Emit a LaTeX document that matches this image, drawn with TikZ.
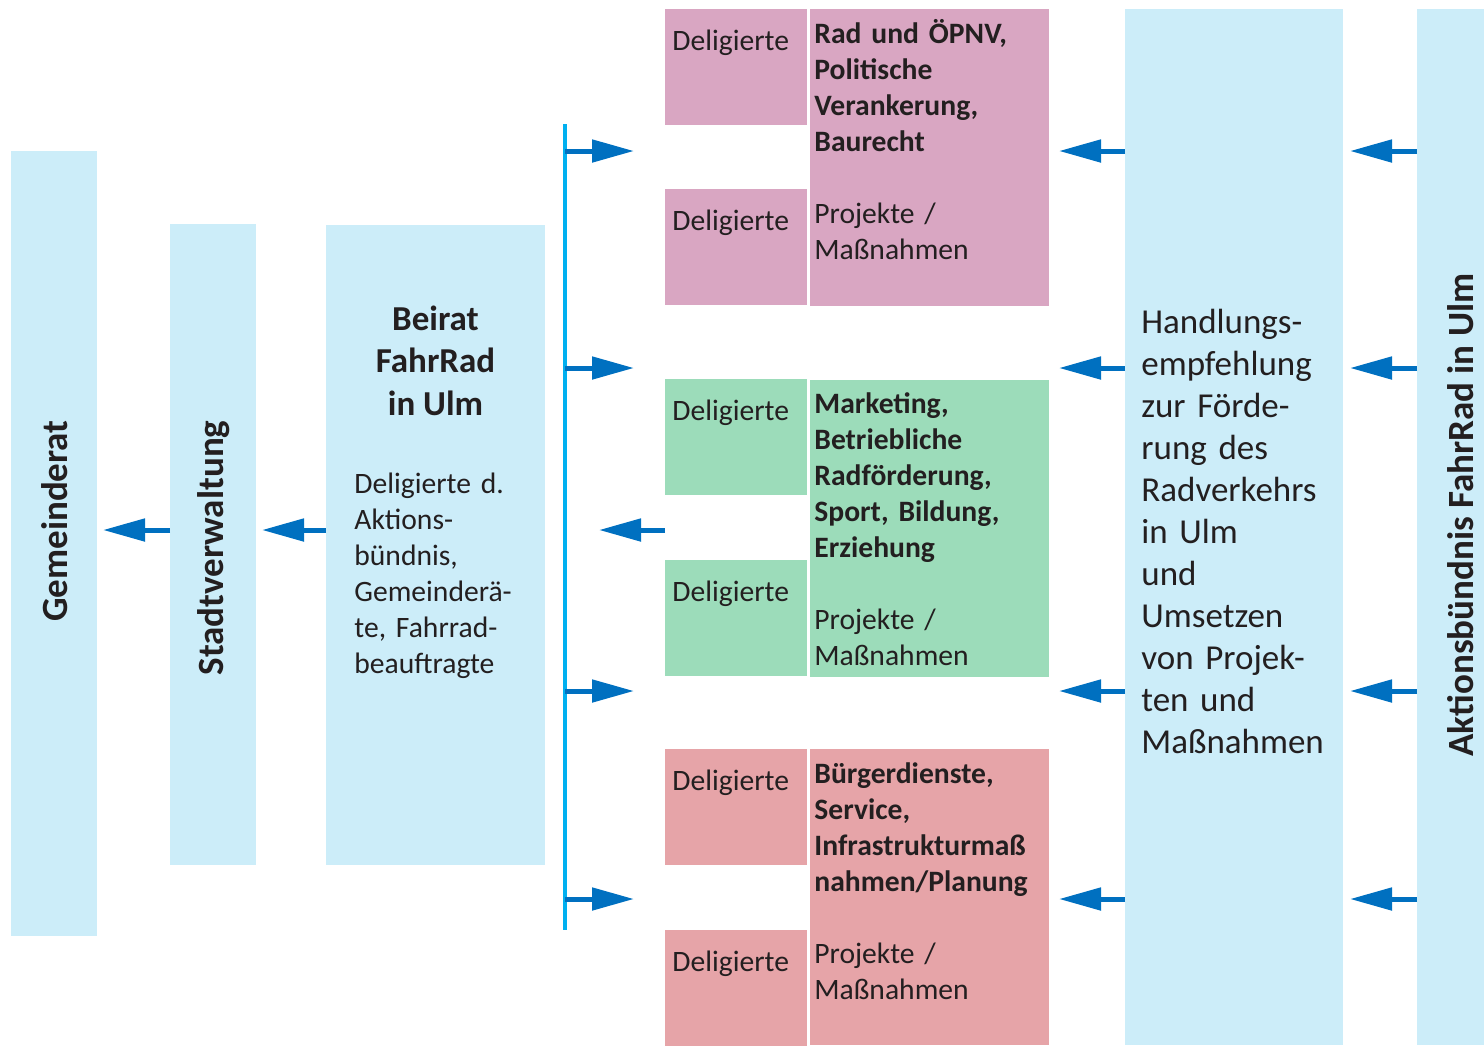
\documentclass[tikz,border=0pt]{standalone}
\usepackage{fontspec}
\setmainfont{Carlito}
\usetikzlibrary{arrows.meta,positioning}
\definecolor{lightBox}{HTML}{CCEDF9}
\definecolor{grpPink}{HTML}{D9A6C2}
\definecolor{grpGreen}{HTML}{9CDCBA}
\definecolor{grpRed}{HTML}{E6A4A8}
\definecolor{arrBlue}{HTML}{0070C0}
\definecolor{busBlue}{HTML}{00B0F0}
\definecolor{txtDark}{HTML}{231F20}
\newcommand{\normtxt}{\fontsize{14.8}{18}\selectfont}
\newcommand{\bigtxt}{\fontsize{17.5}{21.2}\selectfont}

\begin{document}
\begin{tikzpicture}[x=0.5pt,y=-0.5pt]
\tikzstyle{box}=[inner sep=0pt, outer sep=0pt, anchor=north west]
\tikzstyle{delbox}=[box, minimum width=71pt, minimum height=58pt]
\tikzstyle{grpbox}=[box, minimum width=119.5pt, minimum height=148.5pt]
\tikzstyle{txt}=[inner sep=0pt, anchor=base west, align=left, text=txtDark, font=\normtxt]
\tikzstyle{vlab}=[inner sep=0pt, rotate=90, text=txtDark, font=\fontsize{18.5}{22}\selectfont\bfseries]
\tikzstyle{arr}=[arrBlue, line width=2.5pt, -{Triangle[length=21pt,width=11pt]}]
\useasboundingbox (0,0) rectangle (1484,1046);

% left column
\node[box, fill=lightBox, minimum width=43pt, minimum height=392.5pt] (gemeinderat) at (11,151) {};
\node[box, fill=lightBox, minimum width=43pt, minimum height=320.5pt] (stadt) at (170,224) {};
\node[box, fill=lightBox, minimum width=109.5pt, minimum height=320pt] (beirat) at (326,225) {};
\node[vlab] (gemLab) at (55,521) {Gemeinderat};
\node[vlab] (stadtLab) at (214,548) {Stadtverwaltung};
\node[inner sep=0pt, anchor=base, align=center, text=txtDark, font=\bigtxt\bfseries] (beiratLab) at (435.5,415) {Beirat\\FahrRad\\in Ulm};
\node[txt, text width=100pt] (beiratTxt) at (354,493) {Deligierte d.\\Aktions-\\bündnis,\\Gemeinderä-\\te, Fahrrad-\\beauftragte};

% working groups
\node[delbox, fill=grpPink] (pdel1) at (665,9) {};
\node[delbox, fill=grpPink] (pdel2) at (665,189) {};
\node[grpbox, fill=grpPink] (pmain) at (810,9) {};
\node[delbox, fill=grpGreen] (gdel1) at (665,379) {};
\node[delbox, fill=grpGreen] (gdel2) at (665,560) {};
\node[grpbox, fill=grpGreen] (gmain) at (810,380) {};
\node[delbox, fill=grpRed] (rdel1) at (665,749) {};
\node[delbox, fill=grpRed] (rdel2) at (665,930) {};
\node[grpbox, fill=grpRed, minimum height=148pt] (rmain) at (810,749) {};

\foreach \d in {pdel1,pdel2,gdel1,gdel2,rdel1,rdel2}
  \node[txt] (\d txt) at ([xshift=3.5pt,yshift=-20.5pt]\d.north west) {Deligierte};

\node[txt, text width=115pt] (ptxt) at ([xshift=2pt,yshift=-17pt]pmain.north west)
  {\textbf{Rad und ÖPNV,}\\\textbf{Politische}\\\textbf{Verankerung,}\\\textbf{Baurecht}\\[18pt]Projekte /\\Maßnahmen};
\node[txt, text width=115pt] (gtxt) at ([xshift=2pt,yshift=-16.5pt]gmain.north west)
  {\textbf{Marketing,}\\\textbf{Betriebliche}\\\textbf{Radförderung,}\\\textbf{Sport, Bildung,}\\\textbf{Erziehung}\\[18pt]Projekte /\\Maßnahmen};
\node[txt, text width=115pt] (rtxt) at ([xshift=2pt,yshift=-17pt]rmain.north west)
  {\textbf{Bürgerdienste,}\\\textbf{Service,}\\\textbf{Infrastrukturmaß}\\\textbf{nahmen/Planung}\\[18pt]Projekte /\\Maßnahmen};

% right column
\node[box, fill=lightBox, minimum width=109pt, minimum height=518pt] (handl) at (1125,9) {};
\node[box, fill=lightBox, minimum width=33.5pt, minimum height=518pt] (aktion) at (1417,9) {};
\node[txt, text width=100pt, font=\fontsize{17.5}{21}\selectfont] (handlTxt) at (1141,333)
  {Handlungs-\\empfehlung\\zur Förde-\\rung des\\Radverkehrs\\in Ulm\\und\\Umsetzen\\von Projek-\\ten und\\Maßnahmen};
\node[vlab] (aktionLab) at (1461,515) {Aktionsbündnis FahrRad in Ulm};

% distribution line and arrows
\coordinate (busTop) at (565,124);
\coordinate (busBot) at (565,930);
\draw[busBlue, line width=2pt] (busTop) -- (busBot);
\foreach \y [count=\i] in {151,368,691,899} {
  \coordinate (r\i) at (0,\y);
  \coordinate (tip\i) at (634,\y);
  \draw[arr] (busTop |- r\i) -- (tip\i);
}
\draw[arr] (handl.west |- r1) -- ([xshift=5pt]pmain.east |- r1);
\draw[arr] (handl.west |- r2) -- ([xshift=5pt]pmain.east |- r2);
\draw[arr] (handl.west |- r3) -- ([xshift=5pt]gmain.east |- r3);
\draw[arr] (handl.west |- r4) -- ([xshift=5pt]rmain.east |- r4);
\foreach \i in {1,...,4}
  \draw[arr] (aktion.west |- r\i) -- ([xshift=3.5pt]handl.east |- r\i);

\coordinate (back) at (0,530);
\coordinate (backTip) at (599,530);
\draw[arr] (gdel1.west |- back) -- (backTip);
\draw[arr] (beirat.west |- back) -- ([xshift=3pt]stadt.east |- back);
\draw[arr] (stadt.west |- back) -- ([xshift=3pt]gemeinderat.east |- back);
\end{tikzpicture}
\end{document}
